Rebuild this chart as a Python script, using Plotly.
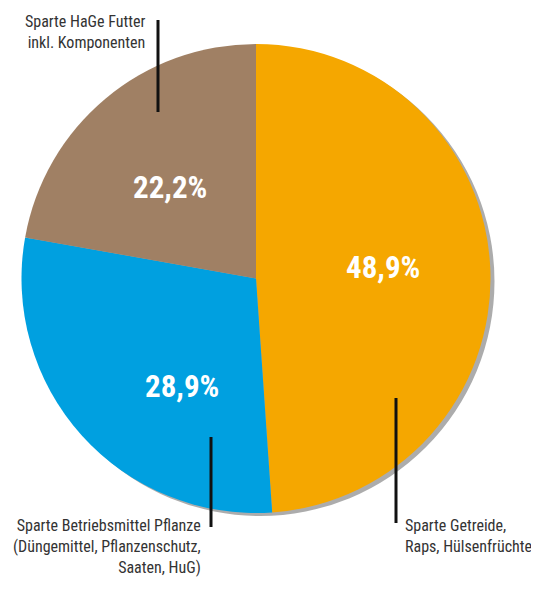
import plotly.graph_objects as go

# page body has an 8px margin, so the figure sits at (8, 8) in the window;
# keep it small enough that the page never scrolls
OFF = 8
W, H = 539 - 2 * OFF, 589 - 2 * OFF

labels = [
    "Sparte Getreide,<br>Raps, Hülsenfrüchte",
    "Sparte Betriebsmittel Pflanze<br>(Düngemittel, Pflanzenschutz,<br>Saaten, HuG)",
    "Sparte HaGe Futter<br>inkl. Komponenten",
]
values = [48.9, 28.9, 22.2]
colors = ["#F5A700", "#00A0E0", "#A08064"]

FONT = "Liberation Sans Narrow, Roboto Condensed, Roboto, sans-serif"


def px_x(x):
    return (x - OFF) / W


def px_y(y):
    return 1 - (y - OFF) / H


# pie box in window pixels: left, right, top, bottom
pl, pr, pt, pb = 21, 491, 44, 513

fig = go.Figure()

# soft drop shadow behind the pie
fig.add_trace(go.Pie(
    values=[sum(values)],
    marker=dict(colors=["rgba(70,70,70,0.45)"], line=dict(width=0)),
    domain=dict(x=[px_x(pl + 4), px_x(pr + 4)], y=[px_y(pb + 3), px_y(pt + 3)]),
    textinfo="none", hoverinfo="skip", showlegend=False, sort=False,
))

fig.add_trace(go.Pie(
    labels=labels,
    values=values,
    marker=dict(colors=colors, line=dict(width=0)),
    domain=dict(x=[px_x(pl), px_x(pr)], y=[px_y(pb), px_y(pt)]),
    sort=False,
    direction="clockwise",
    rotation=0,
    textinfo="none",
    showlegend=False,
))

# percent labels inside the slices
pct_pos = [(383, 267), (182, 386), (170, 187)]
for v, (x, y) in zip(values, pct_pos):
    fig.add_annotation(
        x=px_x(x), y=px_y(y), xref="paper", yref="paper",
        text=f"{v:.1f}".replace(".", ",") + "%", showarrow=False,
        font=dict(family=FONT, size=31, color="white", weight="bold"),
        xanchor="center", yanchor="middle",
    )

# outer labels
name_pos = [
    (403, 514, "left"),
    (203, 514, "right"),
    (147, 10, "right"),
]
for lab, (x, y, al) in zip(labels, name_pos):
    fig.add_annotation(
        x=px_x(x), y=px_y(y), xref="paper", yref="paper",
        text=lab, showarrow=False, align=al,
        font=dict(family=FONT, size=16, color="#333333"),
        xanchor=al, yanchor="top",
    )

# leader lines
lines = [(396, 398, 523), (211, 437, 527), (158, 20, 112)]
for x, y0, y1 in lines:
    fig.add_shape(
        type="line", xref="paper", yref="paper",
        x0=px_x(x), x1=px_x(x), y0=px_y(y0), y1=px_y(y1),
        line=dict(color="#111111", width=3),
    )

fig.update_layout(
    width=W, height=H,
    margin=dict(l=0, r=0, t=0, b=0),
    paper_bgcolor="white",
    plot_bgcolor="white",
)

fig.write_html("out.html")
